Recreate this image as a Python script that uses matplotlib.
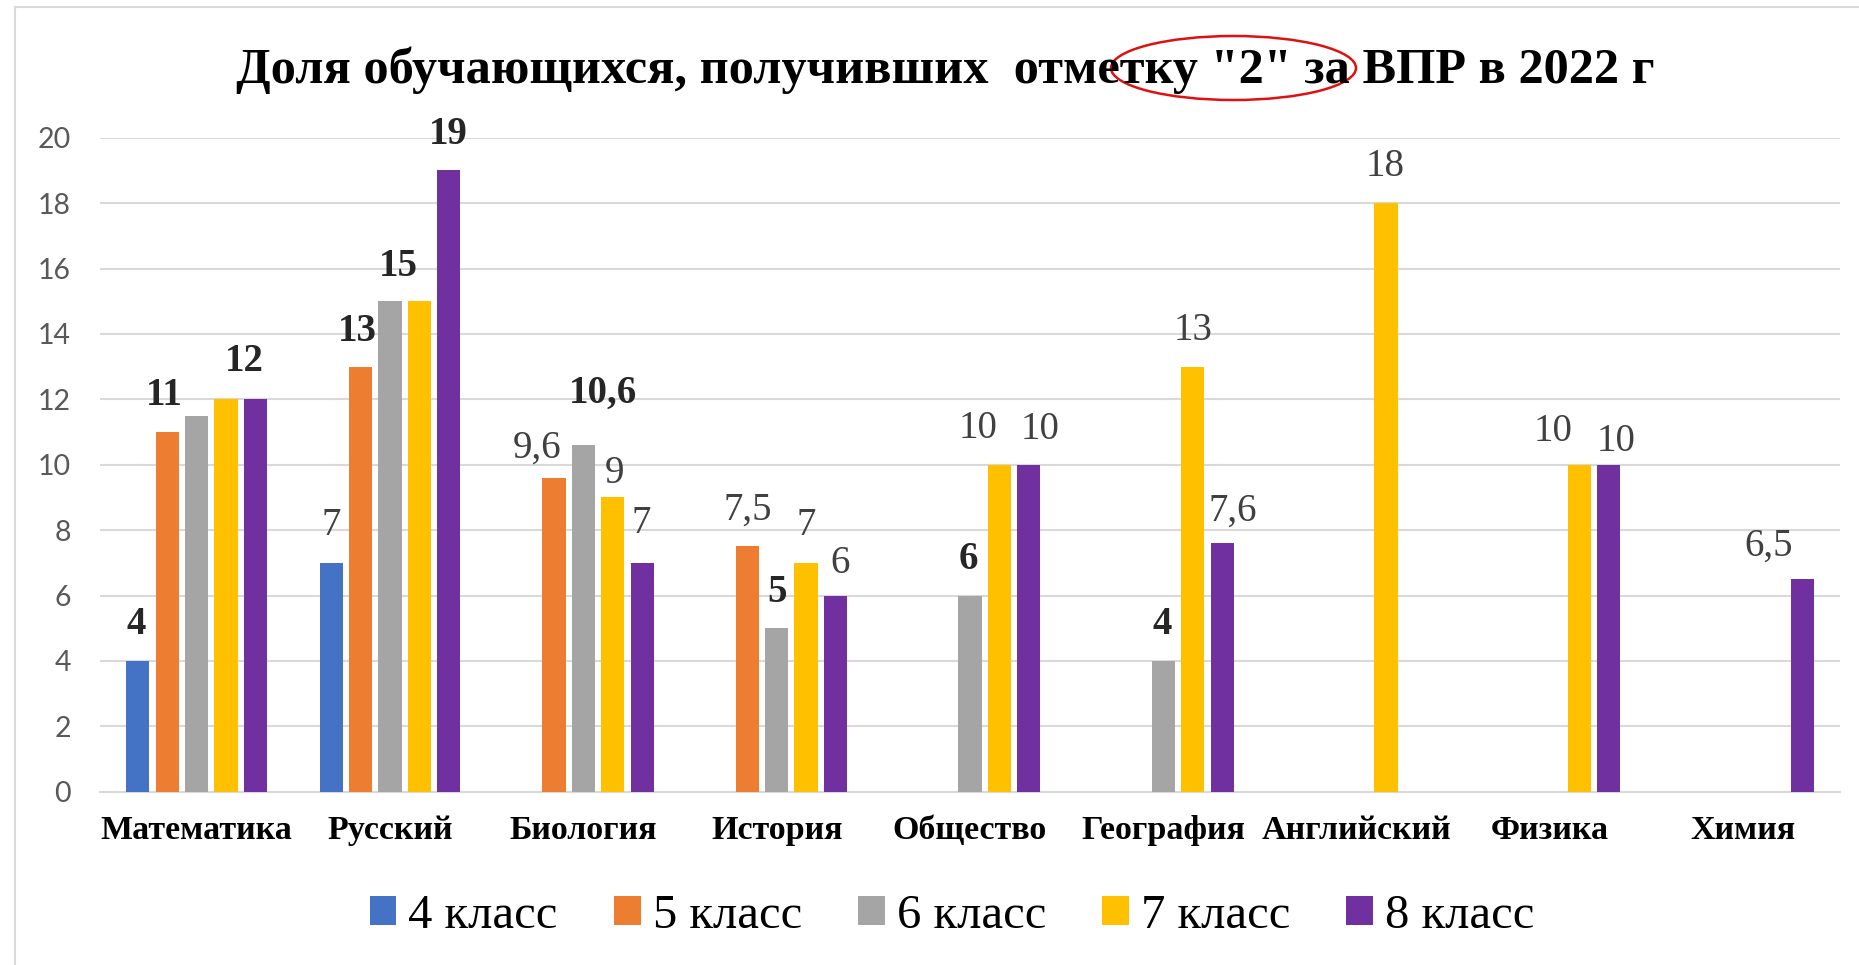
import numpy as np
import matplotlib
matplotlib.use("Agg")
import matplotlib.pyplot as plt
from matplotlib.patches import Patch, Ellipse, Rectangle

categories = ['Математика', 'Русский', 'Биология', 'История', 'Общество',
              'География', 'Английский', 'Физика', 'Химия']
series_names = ['4 класс', '5 класс', '6 класс', '7 класс', '8 класс']
nan = np.nan
g4 = [4, 7, nan, nan, nan, nan, nan, nan, nan]
g5 = [11, 13, 9.6, 7.5, nan, nan, nan, nan, nan]
g6 = [11.5, 15, 10.6, 5, 6, 4, nan, nan, nan]
g7 = [12, 15, 9, 7, 10, 13, 18, 10, nan]
g8 = [12, 19, 7, 6, 10, 7.6, nan, 10, 6.5]
colors = ['#4472C4', '#ED7D31', '#A5A5A5', '#FFC000', '#7030A0']

# which values carry a data label: (series, category, bold, dx pt, dy pt)
labels = [
    (0, 0, True, -1, 26), (1, 0, True, -2, 26), (4, 0, True, -8, 27),
    (0, 1, False, 0, 27), (1, 1, True, -2, 25), (2, 1, True, 6, 25), (4, 1, True, 0, 26),
    (1, 2, False, -12, 21), (2, 2, True, 14, 37), (3, 2, False, 1, 17), (4, 2, False, -1, 28),
    (1, 3, False, 0, 26), (2, 3, True, 0, 26), (3, 3, False, 0, 27), (4, 3, False, 3, 23),
    (2, 4, True, -1, 26), (3, 4, False, -15, 26), (4, 4, False, 8, 25),
    (2, 5, True, -1, 26), (3, 5, False, 0, 26), (4, 5, False, 8, 23),
    (3, 6, False, -1, 26),
    (3, 7, False, -19, 24), (4, 7, False, 5, 17),
    (4, 8, False, -24, 24),
]

serif = 'Liberation Serif'
data = np.array([g4, g5, g6, g7, g8], dtype=float)
x = np.arange(len(categories))
step = 0.152
width = 0.12

fig = plt.figure(figsize=(18.59, 9.65), dpi=100)
ax = fig.add_axes([100 / 1859, 173.3 / 965, 1740 / 1859, 654 / 965])

for i in range(len(series_names)):
    vals = data[i]
    m = ~np.isnan(vals)
    ax.bar(x[m] + (i - 2) * step, vals[m], width=width, color=colors[i], zorder=3)

for s, c, bold, dx, dy in labels:
    v = data[s, c]
    txt = ('%g' % v).replace('.', ',')
    ax.annotate(txt, xy=(x[c] + (s - 2) * step, v), xytext=(dx, dy),
                textcoords='offset points', ha='center', va='center',
                fontsize=28, family=serif,
                fontweight='bold' if bold else 'normal',
                color='#262626' if bold else '#404040',
                annotation_clip=False, zorder=4)

ax.set_xlim(-0.5, len(categories) - 0.5)
ax.set_ylim(0, 20)
ax.set_yticks(np.arange(0, 21, 2))
ax.set_xticks(x)
ax.set_xticklabels(categories, family=serif, fontweight='bold', fontsize=24.5, color='black')
ax.tick_params(axis='x', length=0, pad=17)
ax.tick_params(axis='y', length=0, pad=21, labelsize=20.5, labelcolor='#595959')
for t in ax.get_yticklabels():
    t.set_family('Lato')
ax.grid(axis='y', color='#d9d9d9', lw=1.5, zorder=0)
for sp in ['left', 'right', 'top']:
    ax.spines[sp].set_visible(False)
ax.spines['bottom'].set_color('#d9d9d9')
ax.spines['bottom'].set_linewidth(1.5)

fig.text(945 / 1859, 1 - 83 / 965, 'Доля обучающихся, получивших  отметку "2" за ВПР в 2022 г',
         ha='center', va='baseline', fontsize=36.3, fontweight='bold', family=serif)

handles = [Patch(facecolor=c, edgecolor='none') for c in colors]
leg = fig.legend(handles, series_names, loc='center', ncol=5,
                 bbox_to_anchor=(952 / 1859, 1 - 916 / 965), frameon=False,
                 prop={'family': serif, 'size': 35},
                 handlelength=0.55, handleheight=0.55, handletextpad=0.25, columnspacing=1.15)
for t in leg.get_texts():
    t.set_fontfamily(serif)
    t.set_color('black')

fig.add_artist(Ellipse((1233.5 / 1859, 1 - 68 / 965), 245 / 1859, 64 / 965,
                       transform=fig.transFigure, fill=False, edgecolor='#e01010', lw=1.8))
fig.add_artist(Rectangle((15 / 1859, -0.05), 1.2, 1.05 - 7 / 965, transform=fig.transFigure,
                         fill=False, edgecolor='#d9d9d9', lw=1.5))

fig.savefig('out.png', dpi=100, facecolor='white')
